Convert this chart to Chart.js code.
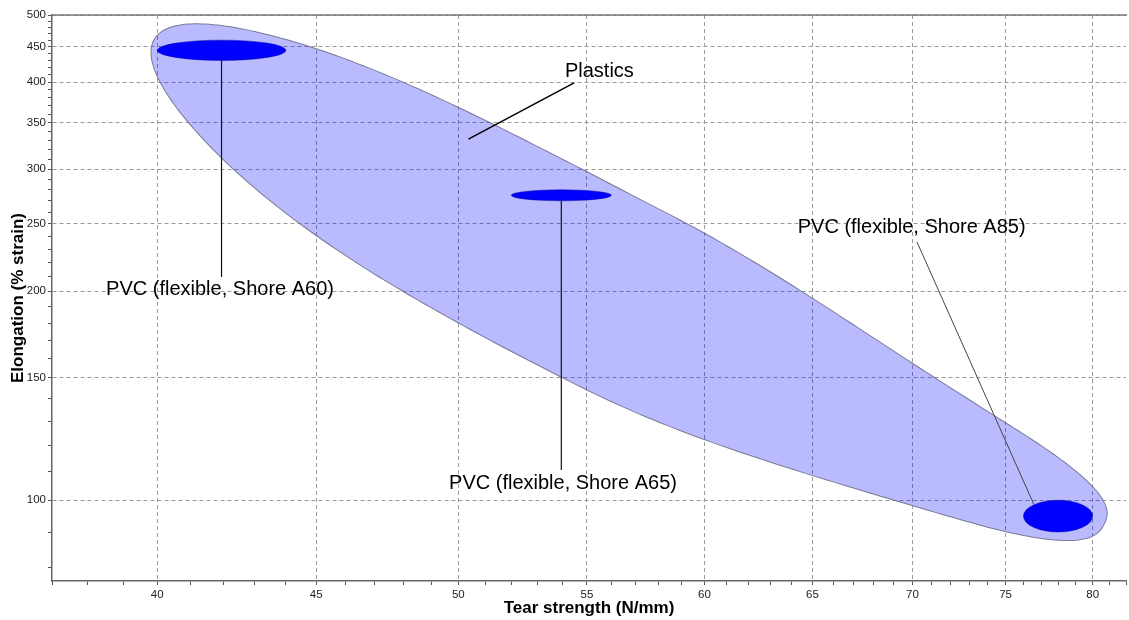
<!DOCTYPE html>
<html>
<head>
<meta charset="utf-8">
<script src="https://cdn.jsdelivr.net/npm/chart.js@4.4.1/dist/chart.umd.min.js"></script>
<style>
  html, body { margin: 0; padding: 0; background: #fff; }
  #wrap { width: 1129px; height: 620px; }
</style>
</head>
<body>
<div id="wrap"><canvas id="chart" width="1129" height="620"></canvas></div>
<script>
// materials: tear strength (N/mm) and elongation (% strain) ranges
const materialNames = ['PVC (flexible, Shore A60)', 'PVC (flexible, Shore A65)', 'PVC (flexible, Shore A85)'];
const tearStrengthLow = [40, 52, 76];
const tearStrengthHigh = [44, 56, 80];
const elongationLow = [430, 270, 90];
const elongationHigh = [460, 280, 100];

// family envelope, tips of its long axis
const familyName = 'Plastics';
const familyTearStrength = [39.8, 80.6];
const familyElongation = [450, 91.5];

// axes
const xRange = [37, 82];
const yRange = [76.5, 500];
const xTickLabels = [40, 45, 50, 55, 60, 65, 70, 75, 80];
const yTickLabels = [100, 150, 200, 250, 300, 350, 400, 450, 500];
const xMinorStep = 1;
const yMinorStep = 10;

// layout / style of the annotations (pixels, relative to the mark they point at)
const labelLayout = [
    { dx: -1.5, dy: 244.7, fromDx: 0, fromDy: -18, aimDx: 0 },
    { dx: 1.7, dy: 293.8, fromDx: 0, fromDy: -19, aimDx: 0 },
    { dx: -146.4, dy: -283.2, fromDx: 5.3, fromDy: 9, aimDx: -19 }
];
const familyLabelLayout = { dx: -27.2, dy: -210.3, fromDx: -25.3, fromDy: 6.2, toDx: -158.2, toDy: -147.8 };
const envelopeStyle = {
    halfWidth: 97, growLeft: 0.12, shrinkRight: 0.28, pLeft: 2, pRight: 2.5,
    bow: 18, offset: -5, tilt: 2,
    fill: 'rgba(0, 0, 255, 0.27)', stroke: 'rgba(110, 110, 140, 0.9)'
};
const FONT = '"Liberation Sans", Arial, sans-serif';

function minorTicks(from, to, step) {
    const ticks = [];
    for (let v = Math.ceil(from / step) * step; v <= to + 1e-9; v += step) ticks.push({ value: v });
    return ticks;
}

function smooth(s) {
    s = Math.min(1, Math.max(0, s));
    return s * s * (3 - 2 * s);
}

function ellipseHit(cx, cy, rx, ry, ax, ay, sx, sy) {
    // point where the segment aim -> start leaves the ellipse
    const dx = sx - ax, dy = sy - ay;
    const px = (ax - cx) / rx, py = (ay - cy) / ry;
    const qx = dx / rx, qy = dy / ry;
    const A = qx * qx + qy * qy, B = 2 * (px * qx + py * qy), C = px * px + py * py - 1;
    const s = (-B + Math.sqrt(B * B - 4 * A * C)) / (2 * A);
    return { x: ax + s * dx, y: ay + s * dy };
}

const bubblePlugin = {
    id: 'bubbles',
    beforeDatasetsDraw(chart) {
        const { ctx, chartArea, scales: { x, y } } = chart;
        ctx.save();
        ctx.beginPath();
        ctx.rect(chartArea.left, chartArea.top, chartArea.width, chartArea.height);
        ctx.clip();

        // family envelope: rounded hull along the line between its tips
        const e = envelopeStyle;
        const x1 = x.getPixelForValue(familyTearStrength[0]), y1 = y.getPixelForValue(familyElongation[0]);
        const x2 = x.getPixelForValue(familyTearStrength[1]), y2 = y.getPixelForValue(familyElongation[1]);
        const a = Math.hypot(x2 - x1, y2 - y1) / 2;
        ctx.save();
        ctx.translate((x1 + x2) / 2, (y1 + y2) / 2);
        ctx.rotate(Math.atan2(y2 - y1, x2 - x1));
        ctx.beginPath();
        const N = 360;
        for (let i = 0; i <= N; i++) {
            const t = Math.PI * 2 * i / N;
            const r = -Math.cos(t);
            const side = Math.sin(t) >= 0 ? 1 : -1;
            const p = e.pLeft + (e.pRight - e.pLeft) * smooth((r + 0.3) / 0.6);
            const prof = Math.pow(Math.max(0, 1 - Math.pow(Math.abs(r), p)), 1 / p);
            const b = e.halfWidth * (1 + e.growLeft * smooth(-r / 0.8) - e.shrinkRight * smooth(r / 0.8));
            const m = e.offset + e.bow * (1 - r * r) + e.tilt * r;
            const u = r * a, v = m + side * b * prof;
            if (i === 0) ctx.moveTo(u, v); else ctx.lineTo(u, v);
        }
        ctx.closePath();
        ctx.fillStyle = e.fill;
        ctx.fill();
        ctx.lineWidth = 1;
        ctx.strokeStyle = e.stroke;
        ctx.stroke();
        ctx.restore();

        // material bubbles
        materialNames.forEach((name, i) => {
            const l = x.getPixelForValue(tearStrengthLow[i]), r = x.getPixelForValue(tearStrengthHigh[i]);
            const t = y.getPixelForValue(elongationHigh[i]), b = y.getPixelForValue(elongationLow[i]);
            ctx.beginPath();
            ctx.ellipse((l + r) / 2, (t + b) / 2, (r - l) / 2, (b - t) / 2, 0, 0, Math.PI * 2);
            ctx.fillStyle = '#0000ff';
            ctx.fill();
            ctx.lineWidth = 0.8;
            ctx.strokeStyle = 'rgba(0, 0, 150, 0.6)';
            ctx.stroke();
        });
        ctx.restore();
    },
    afterDatasetsDraw(chart) {
        const { ctx, chartArea, scales: { x, y } } = chart;
        ctx.save();
        // top frame line
        ctx.strokeStyle = '#777';
        ctx.lineWidth = 1.5;
        ctx.beginPath();
        ctx.moveTo(chartArea.left, chartArea.top);
        ctx.lineTo(chartArea.right + 1, chartArea.top);
        ctx.stroke();

        ctx.font = '20px ' + FONT;
        ctx.textAlign = 'center';
        ctx.textBaseline = 'alphabetic';
        ctx.fillStyle = '#000';

        materialNames.forEach((name, i) => {
            const l = x.getPixelForValue(tearStrengthLow[i]), r = x.getPixelForValue(tearStrengthHigh[i]);
            const t = y.getPixelForValue(elongationHigh[i]), b = y.getPixelForValue(elongationLow[i]);
            const cx = (l + r) / 2, cy = (t + b) / 2;
            const lay = labelLayout[i];
            const tx = cx + lay.dx, ty = cy + lay.dy;
            const sx = tx + lay.fromDx + (lay.aimDx === 0 ? cx - tx : 0), sy = ty + lay.fromDy;
            const end = ellipseHit(cx, cy, (r - l) / 2, (b - t) / 2, cx + lay.aimDx, cy, sx, sy);
            ctx.beginPath();
            ctx.moveTo(sx, sy);
            ctx.lineTo(end.x, end.y);
            ctx.lineWidth = i === 2 ? 1 : 1.2;
            ctx.strokeStyle = i === 2 ? '#444' : '#111';
            ctx.stroke();
            ctx.fillText(name, tx, ty);
        });

        // family label
        const x1 = x.getPixelForValue(familyTearStrength[0]), y1 = y.getPixelForValue(familyElongation[0]);
        const x2 = x.getPixelForValue(familyTearStrength[1]), y2 = y.getPixelForValue(familyElongation[1]);
        const ex = (x1 + x2) / 2, ey = (y1 + y2) / 2;
        const f = familyLabelLayout;
        const fx = ex + f.dx, fy = ey + f.dy;
        ctx.beginPath();
        ctx.moveTo(fx + f.fromDx, fy + f.fromDy);
        ctx.lineTo(ex + f.toDx, ey + f.toDy);
        ctx.lineWidth = 1.5;
        ctx.strokeStyle = '#000';
        ctx.stroke();
        ctx.fillText(familyName, fx, fy);
        ctx.restore();
    }
};

const datasets = materialNames.map((name, i) => ({
    label: name,
    data: [{
        x: Math.sqrt(tearStrengthLow[i] * tearStrengthHigh[i]),
        y: Math.sqrt(elongationLow[i] * elongationHigh[i])
    }],
    pointRadius: 0,
    showLine: false
}));

function gridColor(majors) {
    return (c) => (c.tick && majors.includes(c.tick.value)) ? '#9a9a9a' : 'rgba(0,0,0,0)';
}

new Chart(document.getElementById('chart'), {
    type: 'scatter',
    data: { datasets },
    plugins: [bubblePlugin],
    options: {
        responsive: false,
        animation: false,
        layout: { padding: { top: 15, right: 1, left: 0, bottom: 0 } },
        plugins: { legend: { display: false }, tooltip: { enabled: false } },
        scales: {
            x: {
                type: 'logarithmic',
                min: xRange[0],
                max: xRange[1],
                afterBuildTicks: (s) => { s.ticks = minorTicks(xRange[0], xRange[1], xMinorStep); },
                afterFit: (s) => { s.height = 39; },
                ticks: {
                    autoSkip: false,
                    maxRotation: 0,
                    padding: 3,
                    color: '#222',
                    font: { family: FONT, size: 11.5 },
                    callback: (v) => xTickLabels.includes(v) ? String(v) : ''
                },
                grid: { color: gridColor(xTickLabels), lineWidth: 1, tickLength: 4, tickColor: '#555', tickWidth: 1 },
                border: { display: true, color: '#666', width: 1.5, dash: [4, 3] },
                title: {
                    display: true,
                    text: 'Tear strength (N/mm)',
                    color: '#000',
                    font: { family: FONT, size: 17, weight: 'bold' },
                    padding: { top: 0, bottom: 1 }
                }
            },
            y: {
                type: 'logarithmic',
                min: yRange[0],
                max: yRange[1],
                afterBuildTicks: (s) => { s.ticks = minorTicks(yRange[0], yRange[1], yMinorStep); },
                afterFit: (s) => { s.width = 52; },
                ticks: {
                    autoSkip: false,
                    padding: 2,
                    color: '#222',
                    font: { family: FONT, size: 11.5 },
                    callback: (v) => yTickLabels.includes(v) ? String(v) : ''
                },
                grid: { color: gridColor(yTickLabels), lineWidth: 1, tickLength: 4, tickColor: '#555', tickWidth: 1 },
                border: { display: true, color: '#666', width: 1.5, dash: [4, 3] },
                title: {
                    display: true,
                    text: 'Elongation (% strain)',
                    color: '#000',
                    font: { family: FONT, size: 17, weight: 'bold' },
                    padding: { top: 8, bottom: 0 }
                }
            }
        }
    }
});
</script>
</body>
</html>
